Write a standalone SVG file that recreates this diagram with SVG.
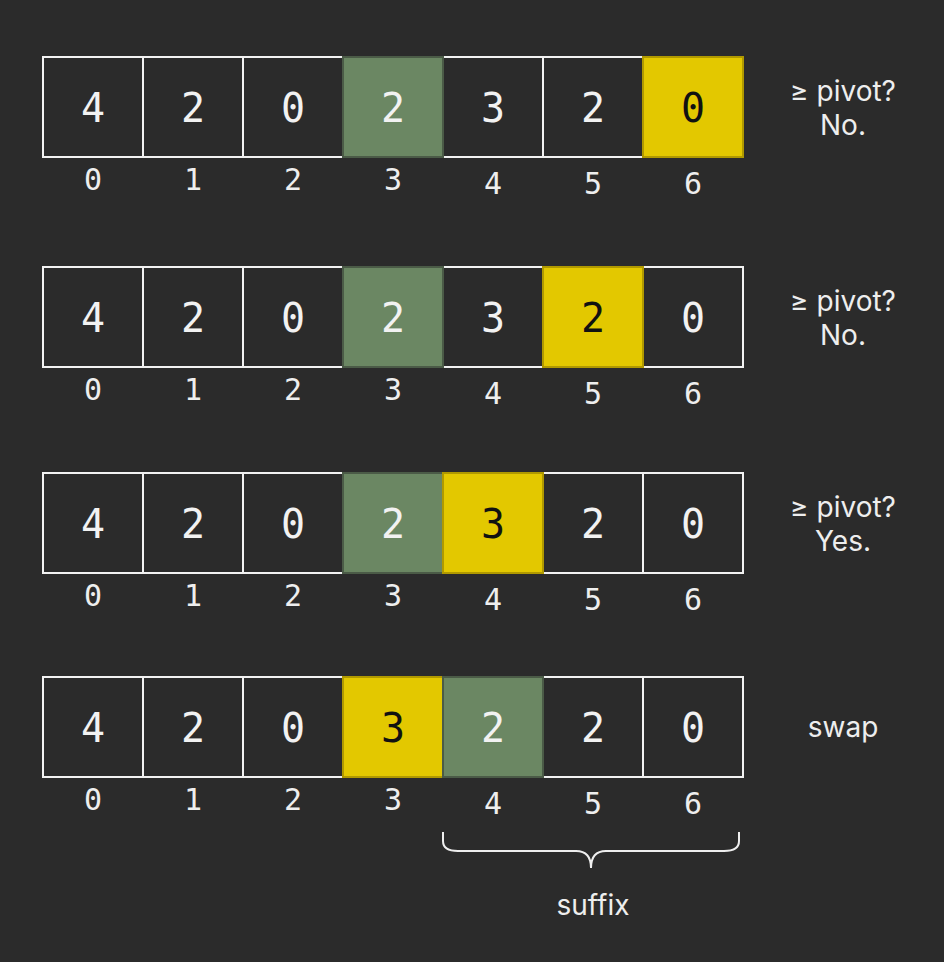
<svg xmlns="http://www.w3.org/2000/svg" width="944" height="962" viewBox="0 0 944 962">
<style>
.bg{fill:#2b2b2b}
.c{fill:#2b2b2b;stroke:#f2f2f2;stroke-width:2}
.g{fill:#6b8763;stroke:#4b5b47;stroke-width:2}
.y{fill:#e3c800;stroke:#b09900;stroke-width:2}
.v{font-family:"DejaVu Sans Mono",monospace;font-size:40px;fill:#f2f2f2;text-anchor:middle}
.vd{fill:#111111}
.i{font-family:"DejaVu Sans Mono",monospace;font-size:30px;fill:#eeeeee;text-anchor:middle}
.t{font-family:Inter,"Liberation Sans",sans-serif;font-size:28px;fill:#eeeeee;text-anchor:middle}
.br{fill:none;stroke:#eeeeee;stroke-width:2}
</style>
<rect class="bg" x="0" y="0" width="944" height="962"/>
<defs>
<g id="idx">
<text class="i" x="93" y="0">0</text>
<text class="i" x="193" y="0">1</text>
<text class="i" x="293" y="0">2</text>
<text class="i" x="393" y="0">3</text>
<text class="i" x="493" y="4">4</text>
<text class="i" x="593" y="4">5</text>
<text class="i" x="693" y="4">6</text>
</g>
</defs>
<g id="row1">
<g id="r1c0"><rect class="c" x="43" y="57" width="100" height="100"/><text class="v" x="93" y="122">4</text></g>
<g id="r1c1"><rect class="c" x="143" y="57" width="100" height="100"/><text class="v" x="193" y="122">2</text></g>
<g id="r1c2"><rect class="c" x="243" y="57" width="100" height="100"/><text class="v" x="293" y="122">0</text></g>
<g id="r1c4"><rect class="c" x="443" y="57" width="100" height="100"/><text class="v" x="493" y="122">3</text></g>
<g id="r1c5"><rect class="c" x="543" y="57" width="100" height="100"/><text class="v" x="593" y="122">2</text></g>
<g id="r1c3"><rect class="g" x="343" y="57" width="100" height="100"/><text class="v" x="393" y="122">2</text></g>
<g id="r1c6"><rect class="y" x="643" y="57" width="100" height="100"/><text class="v vd" x="693" y="122">0</text></g>
<use href="#idx" y="190"/>
<text class="t" x="843" y="101">≥ pivot?</text>
<text class="t" x="843" y="135">No.</text>
</g>
<g id="row2">
<g id="r2c0"><rect class="c" x="43" y="267" width="100" height="100"/><text class="v" x="93" y="332">4</text></g>
<g id="r2c1"><rect class="c" x="143" y="267" width="100" height="100"/><text class="v" x="193" y="332">2</text></g>
<g id="r2c2"><rect class="c" x="243" y="267" width="100" height="100"/><text class="v" x="293" y="332">0</text></g>
<g id="r2c4"><rect class="c" x="443" y="267" width="100" height="100"/><text class="v" x="493" y="332">3</text></g>
<g id="r2c6"><rect class="c" x="643" y="267" width="100" height="100"/><text class="v" x="693" y="332">0</text></g>
<g id="r2c3"><rect class="g" x="343" y="267" width="100" height="100"/><text class="v" x="393" y="332">2</text></g>
<g id="r2c5"><rect class="y" x="543" y="267" width="100" height="100"/><text class="v vd" x="593" y="332">2</text></g>
<use href="#idx" y="400"/>
<text class="t" x="843" y="311">≥ pivot?</text>
<text class="t" x="843" y="345">No.</text>
</g>
<g id="row3">
<g id="r3c0"><rect class="c" x="43" y="473" width="100" height="100"/><text class="v" x="93" y="538">4</text></g>
<g id="r3c1"><rect class="c" x="143" y="473" width="100" height="100"/><text class="v" x="193" y="538">2</text></g>
<g id="r3c2"><rect class="c" x="243" y="473" width="100" height="100"/><text class="v" x="293" y="538">0</text></g>
<g id="r3c5"><rect class="c" x="543" y="473" width="100" height="100"/><text class="v" x="593" y="538">2</text></g>
<g id="r3c6"><rect class="c" x="643" y="473" width="100" height="100"/><text class="v" x="693" y="538">0</text></g>
<g id="r3c3"><rect class="g" x="343" y="473" width="100" height="100"/><text class="v" x="393" y="538">2</text></g>
<g id="r3c4"><rect class="y" x="443" y="473" width="100" height="100"/><text class="v vd" x="493" y="538">3</text></g>
<use href="#idx" y="606"/>
<text class="t" x="843" y="517">≥ pivot?</text>
<text class="t" x="843" y="551">Yes.</text>
</g>
<g id="row4">
<g id="r4c0"><rect class="c" x="43" y="677" width="100" height="100"/><text class="v" x="93" y="742">4</text></g>
<g id="r4c1"><rect class="c" x="143" y="677" width="100" height="100"/><text class="v" x="193" y="742">2</text></g>
<g id="r4c2"><rect class="c" x="243" y="677" width="100" height="100"/><text class="v" x="293" y="742">0</text></g>
<g id="r4c5"><rect class="c" x="543" y="677" width="100" height="100"/><text class="v" x="593" y="742">2</text></g>
<g id="r4c6"><rect class="c" x="643" y="677" width="100" height="100"/><text class="v" x="693" y="742">0</text></g>
<g id="r4c3"><rect class="y" x="343" y="677" width="100" height="100"/><text class="v vd" x="393" y="742">3</text></g>
<g id="r4c4"><rect class="g" x="443" y="677" width="100" height="100"/><text class="v" x="493" y="742">2</text></g>
<use href="#idx" y="810"/>
<text class="t" x="843" y="737">swap</text>
</g>
<g id="suffix">
<path class="br" d="M443,832 V841 Q443,851 458,851 H576 Q591,851 591,868 Q591,851 606,851 H724 Q739,851 739,841 V832"/>
<text class="t" x="593" y="915">suffix</text>
</g>
</svg>
